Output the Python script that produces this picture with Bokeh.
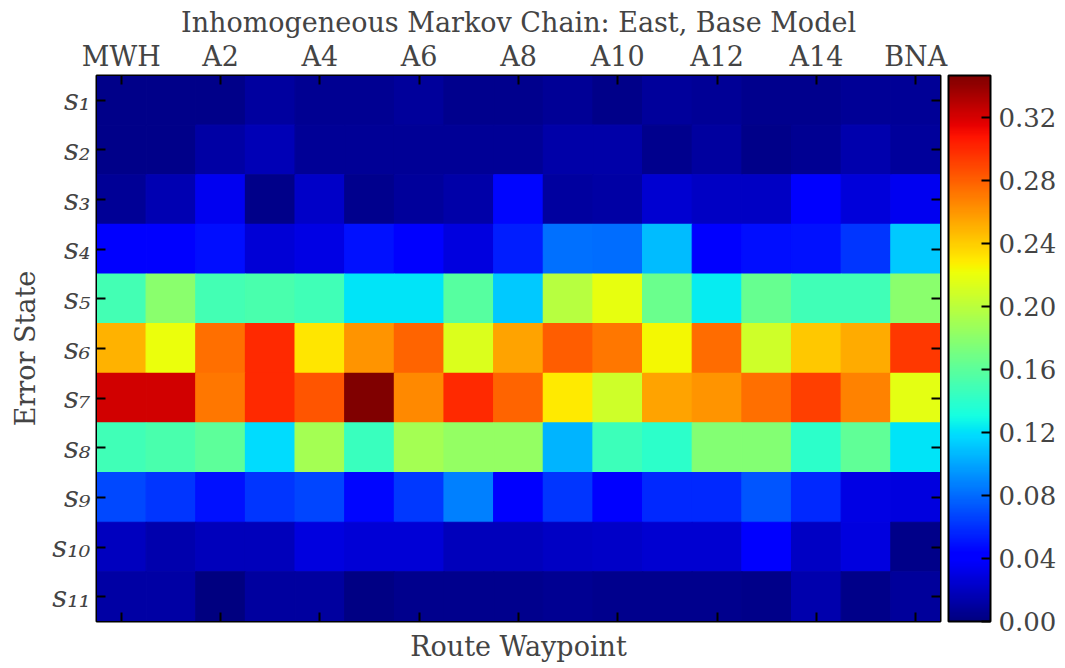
import numpy as np
from bokeh.plotting import figure
from bokeh.models import (LinearColorMapper, ColorBar, FixedTicker, LinearAxis,
                          ColumnDataSource, Range1d, PrintfTickFormatter)
from bokeh.embed import file_html
from bokeh.resources import INLINE

waypoints = ["MWH"] + [f"A{i}" for i in range(1, 16)] + ["BNA"]
state_labels = ["s\u2081", "s\u2082", "s\u2083", "s\u2084", "s\u2085", "s\u2086",
                "s\u2087", "s\u2088", "s\u2089", "s\u2081\u2080", "s\u2081\u2081"]

s1 = [0.004, 0.004, 0.004, 0.010, 0.006, 0.006, 0.009, 0.005, 0.005, 0.008, 0.004, 0.009, 0.008, 0.005, 0.005, 0.008, 0.007]
s2 = [0.004, 0.004, 0.012, 0.017, 0.008, 0.008, 0.008, 0.008, 0.008, 0.013, 0.013, 0.005, 0.010, 0.003, 0.006, 0.014, 0.009]
s3 = [0.008, 0.016, 0.034, 0.004, 0.022, 0.005, 0.009, 0.013, 0.045, 0.010, 0.012, 0.025, 0.021, 0.021, 0.040, 0.028, 0.035]
s4 = [0.042, 0.042, 0.048, 0.026, 0.031, 0.050, 0.043, 0.029, 0.053, 0.082, 0.080, 0.108, 0.044, 0.048, 0.049, 0.062, 0.112]
s5 = [0.149, 0.180, 0.150, 0.152, 0.148, 0.121, 0.121, 0.158, 0.112, 0.199, 0.218, 0.166, 0.124, 0.164, 0.148, 0.148, 0.180]
s6 = [0.250, 0.220, 0.274, 0.300, 0.231, 0.260, 0.278, 0.213, 0.255, 0.281, 0.271, 0.224, 0.276, 0.208, 0.241, 0.253, 0.295]
s7 = [0.322, 0.322, 0.271, 0.300, 0.284, 0.3466, 0.265, 0.300, 0.278, 0.229, 0.208, 0.255, 0.260, 0.274, 0.292, 0.268, 0.217]
s8 = [0.148, 0.152, 0.160, 0.118, 0.190, 0.146, 0.190, 0.183, 0.183, 0.105, 0.147, 0.140, 0.177, 0.177, 0.140, 0.162, 0.121]
s9 = [0.069, 0.062, 0.050, 0.062, 0.067, 0.046, 0.063, 0.087, 0.040, 0.062, 0.040, 0.058, 0.058, 0.073, 0.058, 0.030, 0.029]
s10 = [0.020, 0.014, 0.018, 0.018, 0.029, 0.027, 0.027, 0.018, 0.018, 0.021, 0.022, 0.025, 0.025, 0.040, 0.021, 0.029, 0.004]
s11 = [0.011, 0.011, 0.001, 0.010, 0.010, 0.002, 0.005, 0.005, 0.005, 0.006, 0.005, 0.005, 0.005, 0.004, 0.014, 0.004, 0.009]
rows = [s1, s2, s3, s4, s5, s6, s7, s8, s9, s10, s11]
cbar_ticks = [0.00, 0.04, 0.08, 0.12, 0.16, 0.20, 0.24, 0.28, 0.32]


def jet(t):
    r = np.interp(t, [0, 0.35, 0.66, 0.89, 1], [0, 0, 1, 1, 0.5])
    g = np.interp(t, [0, 0.125, 0.375, 0.64, 0.91, 1], [0, 0, 1, 1, 0, 0])
    b = np.interp(t, [0, 0.11, 0.34, 0.65, 1], [0.5, 1, 1, 0, 0])
    return "#%02x%02x%02x" % (int(round(r * 255)), int(round(g * 255)), int(round(b * 255)))


palette = [jet(i / 255) for i in range(256)]
vmax = max(max(r) for r in rows)
mapper = LinearColorMapper(palette=palette, low=0, high=vmax)

xs, ys, vs = [], [], []
for ri, row in enumerate(rows):
    for ci, v in enumerate(row):
        xs.append(ci)
        ys.append(ri)
        vs.append(v)
src = ColumnDataSource(dict(x=xs, y=ys, v=vs))

FONT = "DejaVu Serif"

p = figure(width=1060, height=664, x_range=Range1d(-0.5, 16.5), y_range=Range1d(10.5, -0.5),
           output_backend="svg", toolbar_location=None, x_axis_location=None, y_axis_location=None,
           min_border_left=96, min_border_right=120, min_border_top=75, min_border_bottom=42)
p.grid.visible = False
p.outline_line_color = "black"
p.outline_line_width = 2

p.rect(x="x", y="y", width=1, height=1, source=src,
       fill_color={"field": "v", "transform": mapper},
       line_color={"field": "v", "transform": mapper}, line_width=1.2)

p.title.text = "Inhomogeneous Markov Chain: East, Base Model"
p.title.align = "center"
p.title.text_font = FONT
p.title.text_font_size = "27px"
p.title.text_font_style = "normal"
p.title.standoff = 0


def style_axis(ax):
    ax.axis_line_color = "black"
    ax.axis_line_width = 1
    ax.major_tick_in = 9
    ax.major_tick_out = 0
    ax.minor_tick_line_color = None
    ax.major_tick_line_color = "black"
    ax.major_tick_line_width = 2
    ax.major_label_text_font = FONT
    ax.major_label_text_font_size = "27px"
    ax.axis_label_text_font = FONT
    ax.axis_label_text_font_size = "27px"
    ax.axis_label_text_font_style = "normal"


def hide_labels(ax):
    ax.major_label_text_font_size = "1px"
    ax.major_label_text_color = None
    ax.major_label_text_alpha = 0
    ax.major_label_standoff = 0


xt = list(range(0, 17, 2))
top = LinearAxis(ticker=FixedTicker(ticks=xt),
                 major_label_overrides={i: waypoints[i] for i in xt})
style_axis(top)
top.major_label_standoff = 4
p.add_layout(top, "above")

bottom = LinearAxis(ticker=FixedTicker(ticks=xt), axis_label="Route Waypoint")
style_axis(bottom)
hide_labels(bottom)
bottom.axis_label_standoff = 9
p.add_layout(bottom, "below")

yt = list(range(11))
left = LinearAxis(ticker=FixedTicker(ticks=yt), axis_label="Error State",
                  major_label_overrides={i: state_labels[i] for i in yt})
style_axis(left)
left.major_label_text_font_style = "italic"
left.major_label_text_font_size = "29px"
left.major_label_standoff = 6
left.axis_label_standoff = 8
p.add_layout(left, "left")

right = LinearAxis(ticker=FixedTicker(ticks=yt))
style_axis(right)
hide_labels(right)
p.add_layout(right, "right")

cb = ColorBar(color_mapper=mapper, ticker=FixedTicker(ticks=cbar_ticks),
              formatter=PrintfTickFormatter(format="%.2f"),
              width=42, padding=0, margin=0, location=(8, 0),
              bar_line_color="black", bar_line_width=2,
              major_tick_line_color="black", major_tick_line_width=2,
              major_tick_in=9, major_tick_out=0, minor_tick_line_color=None,
              label_standoff=8,
              major_label_text_font=FONT, major_label_text_font_size="26px",
              border_line_color=None, background_fill_color=None)
p.add_layout(cb, "right")

open("out.html", "w").write(file_html(p, INLINE))
